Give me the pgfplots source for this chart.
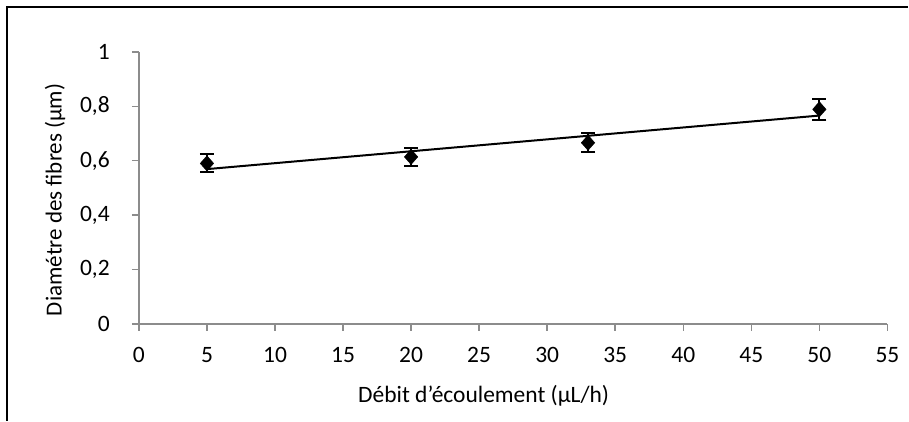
\documentclass[border=0pt]{standalone}
\usepackage{pgfplots}
\pgfplotsset{compat=1.18}
\usepackage{fontspec}
\setmainfont{Carlito}
\begin{document}
\fontsize{21bp}{25bp}\selectfont
\begin{tikzpicture}[x=1bp,y=1bp]
\path (0,0) rectangle (909,421);
\draw[black, line width=1.2bp] (7,0) -- (7,414) -- (909,414);
\begin{axis}[
  at={(139bp,97bp)}, anchor=origin,
  scale only axis, width=749bp, height=272bp,
  xmin=0, xmax=55, ymin=0, ymax=1,
  xtick={0,5,...,55}, ytick={0,0.2,0.4,0.6,0.8,1},
  axis lines*=left,
  axis line style={draw=gray!90, line width=2bp},
  tick align=outside,
  major tick length=7bp,
  tick style={draw=gray!90, line width=1.5bp},
  /pgf/number format/assume math mode=true,
  /pgf/number format/use comma,
  ticklabel style={font=\fontsize{23.5bp}{28bp}\selectfont},
  yticklabel style={anchor=east, inner sep=0pt, xshift=-22bp},
  xticklabel style={anchor=north, inner sep=0pt, yshift=-16bp},
  clip=false,
]
\addplot[black, line width=2bp, no marks] coordinates {(5,0.569) (50,0.766)};
\addplot[only marks, mark=diamond*, mark size=9bp, mark options={fill=black, draw=black, yscale=0.85},
  error bars/.cd, y dir=both, y explicit,
  error bar style={black, line width=2bp},
  error mark options={rotate=90, mark size=7bp, line width=2bp, black}]
  coordinates {
  (5,0.590) +- (0,0.033)
  (20,0.614) +- (0,0.033)
  (33,0.666) +- (0,0.035)
  (50,0.789) +- (0,0.039)
  };
\end{axis}
\node[anchor=base, font=\fontsize{23.5bp}{28bp}\selectfont] at (484,421-403) {Débit d’écoulement (µL/h)};
\node[rotate=90, anchor=center, font=\fontsize{23bp}{27bp}\selectfont] at (55,421-200) {Diamétre des fibres (µm)};
\end{tikzpicture}
\end{document}
